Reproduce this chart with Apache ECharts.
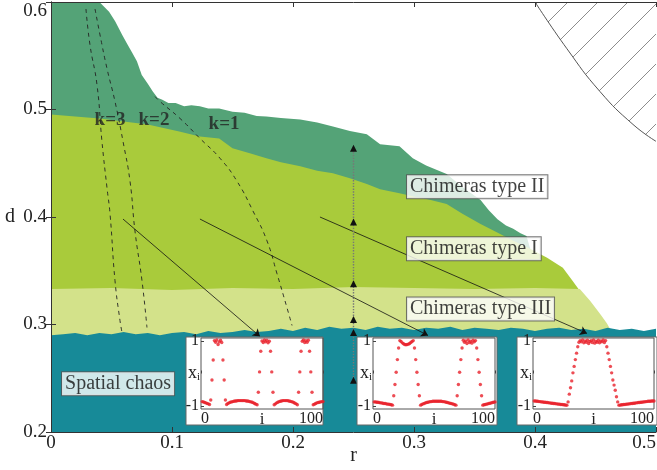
<!DOCTYPE html>
<html>
<head>
<meta charset="utf-8">
<script src="https://cdn.jsdelivr.net/npm/echarts@6/dist/echarts.min.js"></script>
<style>html,body{margin:0;background:#fff}#chart{width:657px;height:470px}</style>
</head>
<body>
<div id="chart"></div>
<script>
// region boundaries (r, d)
const rII = [0,0.02,0.04,0.048,0.053,0.059,0.063,0.067,0.071,0.075,0.08,0.084,0.088,0.092,0.097,0.103,0.11,0.116,0.123,0.13,0.139,0.15,0.16,0.17,0.178,0.19,0.206,0.22,0.233,0.247,0.261,0.272,0.288,0.299,0.31,0.327,0.34,0.355,0.362,0.369,0.376,0.382,0.388,0.393,0.396];
const dII = [0.6,0.6,0.6,0.591,0.582,0.569,0.561,0.553,0.545,0.532,0.524,0.517,0.511,0.509,0.506,0.506,0.503,0.504,0.503,0.501,0.501,0.498,0.497,0.494,0.4935,0.492,0.4907,0.488,0.4843,0.48,0.4769,0.4676,0.4657,0.4546,0.448,0.44,0.428,0.4157,0.406,0.398,0.392,0.389,0.385,0.3824,0.3704];
const rI = [0,0.04,0.08,0.106,0.123,0.139,0.15,0.165,0.178,0.19,0.206,0.22,0.233,0.247,0.261,0.272,0.288,0.299,0.313,0.327,0.34,0.355,0.368,0.382,0.396,0.41,0.423,0.431,0.437];
const dI = [0.4954,0.4917,0.486,0.4796,0.475,0.473,0.4639,0.459,0.4546,0.451,0.4472,0.443,0.4407,0.436,0.4306,0.4259,0.4222,0.4194,0.416,0.412,0.403,0.3935,0.386,0.3778,0.3704,0.362,0.3528,0.3407,0.3315];
const rIII = [0,0.05,0.1,0.15,0.2,0.25,0.3,0.35,0.4,0.437,0.4455,0.4537,0.4595,0.463];
const dIII = [0.333,0.334,0.332,0.334,0.333,0.335,0.334,0.333,0.334,0.333,0.3222,0.31,0.301,0.294];
const rChaos = [0,0.01,0.02,0.03,0.04,0.05,0.06,0.07,0.08,0.09,0.1,0.11,0.12,0.13,0.14,0.15,0.16,0.17,0.18,0.19,0.2,0.21,0.22,0.23,0.24,0.25,0.26,0.27,0.28,0.29,0.3,0.31,0.32,0.33,0.34,0.35,0.36,0.37,0.38,0.39,0.4,0.41,0.42,0.43,0.44,0.45,0.46,0.47,0.48,0.49,0.5];
const dChaos = [0.290,0.291,0.292,0.290,0.292,0.291,0.293,0.291,0.292,0.290,0.292,0.293,0.291,0.294,0.292,0.293,0.295,0.293,0.294,0.296,0.294,0.297,0.295,0.298,0.296,0.297,0.295,0.298,0.296,0.297,0.295,0.297,0.296,0.298,0.295,0.297,0.296,0.295,0.297,0.296,0.294,0.296,0.297,0.295,0.296,0.294,0.297,0.295,0.296,0.294,0.296];
const rHatch = [0.4,0.4264,0.4537,0.481,0.5];
const dHatch = [0.6,0.5565,0.5167,0.4861,0.4704];

// dashed k curves
const rK3 = [0.0289,0.0322,0.038,0.0421,0.0463,0.0488,0.0529,0.057,0.0587];
const dK3 = [0.5935,0.5602,0.5231,0.4704,0.4269,0.4028,0.3407,0.3037,0.2926];
const rK2 = [0.0364,0.0405,0.0463,0.0529,0.0595,0.0653,0.0694,0.0752,0.0793];
const dK2 = [0.5935,0.5694,0.538,0.5074,0.4704,0.4333,0.387,0.3407,0.2972];
const rK1 = [0.086,0.0901,0.1066,0.1231,0.1397,0.1537,0.1669,0.1785,0.1868,0.195,0.1992];
const dK1 = [0.512,0.5074,0.4917,0.4731,0.4546,0.4333,0.4056,0.3778,0.3472,0.3157,0.2991];

// vertical scan at r = 0.25
const markerR = 0.25;
const markerD = [0.2481,0.2926,0.3046,0.338,0.3954,0.4639];

// arrows pointing to the insets
const arrowFrom = [[0.0595,0.3981],[0.1231,0.3981],[0.2223,0.4]];
const arrowTo = [[0.1727,0.2889],[0.3116,0.2898],[0.443,0.2917]];

// inset snapshots x_i, i = 1..100
const ins1 = [-0.87,-0.88,-0.90,-0.91,-0.93,-0.94,-0.96,-0.82,-0.20,0.42,
  1.02,0.97,1.04,0.90,0.98,1.03,0.96,0.42,-0.20,-0.82,
  -0.96,-0.93,-0.91,-0.89,-0.88,-0.87,-0.86,-0.85,-0.85,-0.84,-0.84,-0.84,-0.84,-0.84,-0.84,-0.84,-0.85,-0.85,-0.86,-0.87,-0.88,-0.89,-0.91,-0.93,-0.95,-0.97,
  -0.58,0.05,0.69,1.01,0.96,1.04,0.98,1.03,0.95,1.00,0.69,0.05,-0.58,
  -0.97,-0.94,-0.91,-0.89,-0.87,-0.86,-0.85,-0.84,-0.84,-0.84,-0.84,-0.84,-0.85,-0.86,-0.87,-0.88,-0.90,-0.92,-0.94,-0.97,
  -0.58,0.05,0.69,1.00,1.04,0.96,1.02,0.97,1.03,0.69,0.05,-0.58,
  -0.97,-0.95,-0.93,-0.91,-0.90,-0.89,-0.88,-0.87,-0.87];
const ins2 = [-0.88,-0.88,-0.89,-0.89,-0.90,-0.91,-0.91,-0.92,-0.93,-0.93,-0.94,-0.95,-0.95,-0.96,-0.97,-0.98,
  -0.69,-0.34,0.04,0.43,0.79,
  1.02,0.99,0.95,0.92,0.90,0.89,0.90,0.91,0.93,0.96,0.99,1.02,
  0.79,0.43,0.04,-0.34,-0.69,
  -0.98,-0.96,-0.94,-0.93,-0.91,-0.90,-0.89,-0.88,-0.87,-0.87,-0.86,-0.86,-0.86,-0.86,-0.86,-0.86,-0.86,-0.86,-0.87,-0.87,-0.88,-0.89,-0.90,-0.91,-0.92,-0.93,-0.94,-0.95,-0.97,-0.98,
  -0.69,-0.34,0.04,0.43,0.79,
  1.03,0.97,1.01,0.93,1.04,0.96,1.00,0.94,1.03,0.98,1.02,
  0.79,0.43,0.04,-0.34,-0.69,
  -0.98,-0.97,-0.96,-0.95,-0.94,-0.93,-0.92,-0.91,-0.90,-0.89,-0.88];
const ins3 = [-0.85,-0.85,-0.86,-0.86,-0.87,-0.87,-0.88,-0.88,-0.89,-0.89,-0.90,-0.90,-0.91,-0.91,-0.92,-0.92,-0.93,-0.93,-0.94,-0.94,-0.95,-0.95,-0.96,-0.96,-0.97,-0.97,-0.98,-0.98,
  -0.88,-0.64,-0.44,-0.23,0.02,0.22,0.43,0.63,0.83,0.97,
  1.02,0.98,1.04,0.95,1.01,0.97,1.03,0.93,0.99,1.02,0.96,1.04,0.94,1.00,0.97,1.03,0.95,1.01,0.98,1.04,0.96,1.02,
  0.83,0.63,0.43,0.22,0.02,-0.20,-0.36,-0.52,-0.72,-0.88,
  -0.98,-0.98,-0.97,-0.97,-0.96,-0.96,-0.95,-0.95,-0.94,-0.94,-0.93,-0.93,-0.92,-0.92,-0.91,-0.91,-0.90,-0.90,-0.89,-0.89,-0.88,-0.88,-0.87,-0.87,-0.86,-0.86,-0.86,-0.85,-0.85,-0.85];

const serif = 'Liberation Serif, DejaVu Serif, serif';
const ink = '#222';
const pairs = (xs, ys) => xs.map((x, i) => [x, ys[i]]);
const indexed = vals => vals.map((v, i) => [i + 1, v]);

// diagonal hatch for the forbidden corner
const hatch = document.createElement('canvas');
hatch.width = 30; hatch.height = 30;
const hg = hatch.getContext('2d');
hg.strokeStyle = '#8c8c8c'; hg.lineWidth = 1;
hg.beginPath();
hg.moveTo(0, 30); hg.lineTo(30, 0);
hg.moveTo(-5, 5); hg.lineTo(5, -5);
hg.moveTo(25, 35); hg.lineTo(35, 25);
hg.stroke();

const chart = echarts.init(document.getElementById('chart'));

const areaSeries = (data, color, extra) => Object.assign({
  type: 'line', data, showSymbol: false, z: 2,
  lineStyle: { width: 0 },
  areaStyle: { color, opacity: 1, origin: 'start' }
}, extra || {});

const dashed = data => ({
  type: 'line', data, smooth: true, showSymbol: false, z: 3,
  lineStyle: { color: ink, width: 0.9, type: [4, 4] }
});

const insetGrids = [
  { left: 201, top: 338, width: 122, height: 71 },
  { left: 373, top: 338, width: 122, height: 71 },
  { left: 533, top: 338, width: 121, height: 71 }
];

const insetX = k => ({
  gridIndex: k, type: 'value', min: 0, max: 100, interval: 100, z: 13,
  axisLine: { show: false },
  axisTick: { inside: true, length: 3, lineStyle: { color: '#444' } },
  splitLine: { show: false },
  axisLabel: { fontFamily: serif, fontSize: 16, color: ink, margin: 2, alignMinLabel: 'left', alignMaxLabel: 'right' },
  name: 'i', nameLocation: 'middle', nameGap: 2, nameMoveOverlap: false,
  nameTextStyle: { fontFamily: serif, fontSize: 17, color: ink, verticalAlign: 'top' }
});
const insetY = k => ({
  gridIndex: k, type: 'value', min: -1.1, max: 1.1, z: 13,
  axisLine: { show: false },
  axisTick: { inside: true, length: 3, customValues: [-1, 1], lineStyle: { color: '#444' } },
  splitLine: { show: false },
  axisLabel: { fontFamily: serif, fontSize: 16, color: ink, margin: 2, customValues: [-1, 1] },
  name: 'x{s|i}', nameLocation: 'middle', nameRotate: 0, nameGap: 1, nameMoveOverlap: false,
  nameTextStyle: { fontFamily: serif, fontSize: 18, color: ink, align: 'right',
    rich: { s: { fontFamily: serif, fontSize: 11, color: ink, padding: [8, 0, 0, 0] } } }
});
const insetSeries = (k, vals) => ({
  type: 'scatter', xAxisIndex: k + 1, yAxisIndex: k + 1, data: indexed(vals),
  symbolSize: 3.4, itemStyle: { color: '#e8202a' }, z: 12, clip: false
});

const boxLabel = {
  show: true, position: 'right', distance: 0, formatter: '{b}',
  backgroundColor: '#fff', borderColor: '#555', borderWidth: 1,
  padding: [2, 3, 0, 3], fontFamily: serif, fontSize: 20, lineHeight: 21, color: '#111'
};

const mainAxisLine = { lineStyle: { color: '#333', width: 1 } };
const mainTick = { inside: true, length: 5, lineStyle: { color: '#333' } };

chart.setOption({
  animation: false,
  backgroundColor: '#fff',
  grid: [{ left: 51, right: 1, top: 2, bottom: 38, outerBoundsMode: 'none' }].concat(
    insetGrids.map(g => Object.assign({ show: true, borderColor: '#555', borderWidth: 1, backgroundColor: 'rgba(0,0,0,0)', z: 12, outerBoundsMode: 'none' }, g))
  ),
  graphic: [
    { type: 'rect', shape: { x: 186, y: 337, width: 137, height: 88 }, style: { fill: '#fff', stroke: '#666', lineWidth: 1 }, z: 5 },
    { type: 'rect', shape: { x: 357, y: 337, width: 140, height: 88 }, style: { fill: '#fff', stroke: '#666', lineWidth: 1 }, z: 5 },
    { type: 'rect', shape: { x: 517, y: 337, width: 140, height: 88 }, style: { fill: '#fff', stroke: '#666', lineWidth: 1 }, z: 5 }
  ],
  xAxis: [
    {
      type: 'value', min: 0, max: 0.5, interval: 0.1, position: 'bottom', z: 10,
      axisLine: mainAxisLine, axisTick: mainTick, splitLine: { show: false },
      axisLabel: { fontFamily: serif, fontSize: 19, color: ink, margin: 2, alignMaxLabel: 'right' },
      name: 'r', nameLocation: 'middle', nameGap: 14, nameMoveOverlap: false,
      nameTextStyle: { fontFamily: serif, fontSize: 20, color: ink }
    },
    {
      type: 'value', min: 0, max: 0.5, interval: 0.1, position: 'top', z: 10,
      axisLine: mainAxisLine, axisTick: mainTick, splitLine: { show: false }, axisLabel: { show: false }
    }
  ].concat([0, 1, 2].map(k => insetX(k + 1))),
  yAxis: [
    {
      type: 'value', min: 0.2, max: 0.6, interval: 0.1, position: 'left', z: 10,
      axisLine: mainAxisLine, axisTick: mainTick, splitLine: { show: false },
      axisLabel: { fontFamily: serif, fontSize: 19, color: ink, margin: 4, verticalAlignMaxLabel: 'top' },
      name: 'd', nameLocation: 'middle', nameRotate: 0, nameGap: 36, nameMoveOverlap: false,
      nameTextStyle: { fontFamily: serif, fontSize: 20, color: ink }
    },
    {
      type: 'value', min: 0.2, max: 0.6, interval: 0.1, position: 'right', z: 10,
      axisLine: mainAxisLine, axisTick: mainTick, splitLine: { show: false }, axisLabel: { show: false }
    }
  ].concat([0, 1, 2].map(k => insetY(k + 1))),
  series: [
    areaSeries(pairs(rII, dII), '#54a377'),
    areaSeries(pairs(rI, dI), '#a9cb3b'),
    areaSeries(pairs(rIII, dIII), '#d3e28a'),
    areaSeries(pairs(rChaos, dChaos), '#178a98'),
    {
      type: 'line', data: pairs(rHatch, dHatch), smooth: true, showSymbol: false, z: 2,
      lineStyle: { color: '#555', width: 1 },
      areaStyle: { color: { image: hatch, repeat: 'repeat' }, opacity: 1, origin: 'end' }
    },
    dashed(pairs(rK3, dK3)),
    dashed(pairs(rK2, dK2)),
    dashed(pairs(rK1, dK1)),
    {
      type: 'line', data: markerD.map(d => [markerR, d]), z: 4,
      symbol: 'triangle', symbolSize: 7, itemStyle: { color: '#111' },
      lineStyle: { color: '#777', type: 'dotted', width: 1.4 }
    },
    {
      type: 'lines', coordinateSystem: 'cartesian2d', z: 4,
      symbol: ['none', 'arrow'], symbolSize: 7,
      lineStyle: { color: '#111', width: 0.8, opacity: 1 },
      data: arrowFrom.map((f, i) => ({ coords: [f, arrowTo[i]] }))
    },
    {
      type: 'scatter', symbolSize: 0, z: 7,
      label: { show: true, position: 'inside', formatter: p => p.data[2], fontFamily: serif, fontSize: 19, fontWeight: 'bold', color: ink },
      data: [[0.0488, 0.4898, 'k=3'], [0.0851, 0.4898, 'k=2'], [0.143, 0.4861, 'k=1']]
    },
    {
      type: 'scatter', symbolSize: 0, z: 7, label: boxLabel,
      data: [
        { name: 'Chimeras type II', value: [0.2942, 0.4282] },
        { name: 'Chimeras type I', value: [0.2942, 0.3704] },
        { name: 'Chimeras type III', value: [0.2942, 0.3144] },
        { name: 'Spatial chaos', value: [0.0091, 0.2449] }
      ]
    },
    insetSeries(1, ins1),
    insetSeries(2, ins2),
    insetSeries(3, ins3)
  ]
});
</script>
</body>
</html>
